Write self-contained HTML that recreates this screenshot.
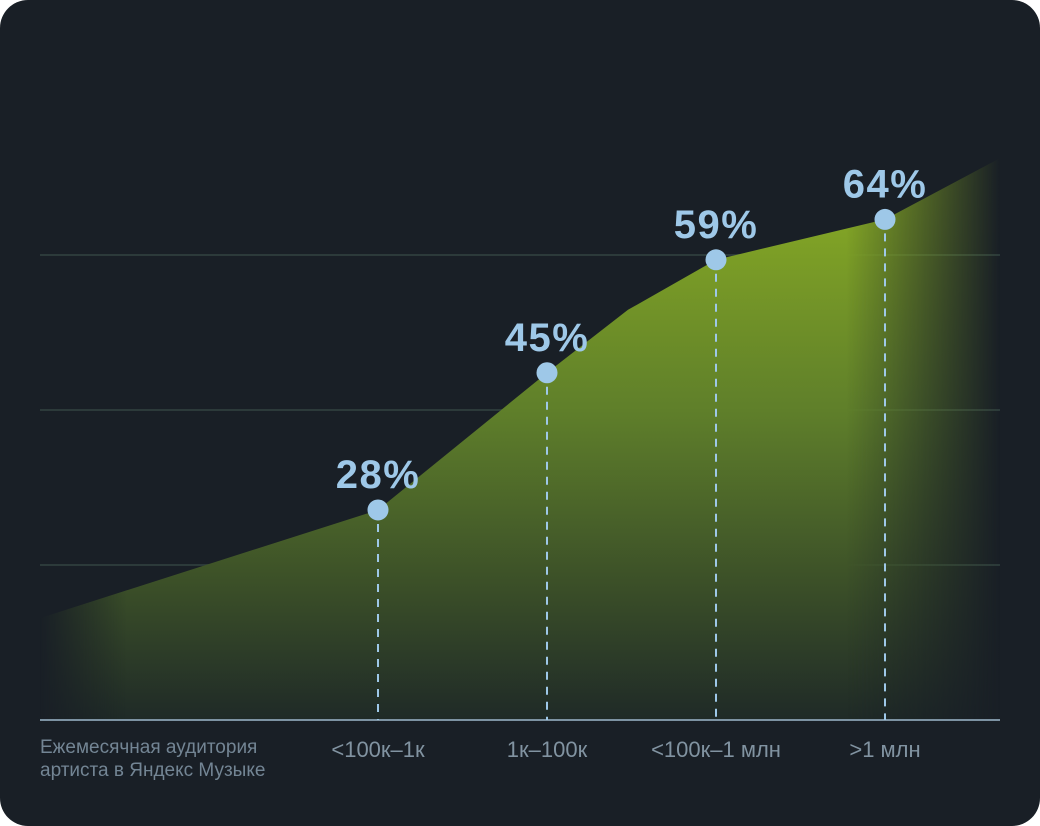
<!DOCTYPE html>
<html><head><meta charset="utf-8"><style>
html,body{margin:0;padding:0;background:#fff;width:1040px;height:826px;overflow:hidden}
.card{position:absolute;left:0;top:0;width:1040px;height:826px;background:#191f26;border-radius:28px}
svg{position:absolute;left:0;top:0}
text{font-family:"Liberation Sans",sans-serif}
</style></head><body>
<div class="card">
<svg id="chart" width="1040" height="826"></svg>
</div>
<script>
const categories = ["<100к–1к","1к–100к","<100к–1 млн",">1 млн"];
const values = [28,45,59,64];
const labels = ["28%","45%","59%","64%"];
const areaStart = 14.6, areaMid = 52.8, areaEnd = 71.6;
const axisTitle = ["Ежемесячная аудитория","артиста в Яндекс Музыке"];

const NS="http://www.w3.org/2000/svg";
const svg=document.getElementById('chart');
const X0=40,X1=1000,BASE=720;
const xPos=i=>378+i*169;
const y=v=>735.9-v*8.07;
function el(t,a,p){const e=document.createElementNS(NS,t);for(const k in a)e.setAttribute(k,a[k]);(p||svg).appendChild(e);return e;}
const defs=el('defs',{});
defs.innerHTML=`<linearGradient id="gv" x1="0" y1="0" x2="0" y2="1"><stop offset="0" stop-color="#8db024"/><stop offset="0.45" stop-color="#5f7f2a"/><stop offset="1" stop-color="#1f2a27"/></linearGradient>
<linearGradient id="gh" x1="0" y1="0" x2="1" y2="0"><stop offset="0" stop-color="#000"/><stop offset="0.09" stop-color="#fff"/><stop offset="0.84" stop-color="#fff"/><stop offset="1" stop-color="#000"/></linearGradient>
<mask id="mk"><rect x="40" y="0" width="960" height="826" fill="url(#gh)"/></mask>`;
[255,410,565].forEach((gy,i)=>{const l=el('line',{x1:X0,x2:X1,y1:gy,y2:gy,stroke:'#2c3a3a','stroke-width':2});
});
let pts=[[X0,y(areaStart)]];
values.forEach((v,i)=>{pts.push([xPos(i),y(v)]);if(i==1)pts.push([628,y(areaMid)]);});
pts.push([X1,y(areaEnd)]);
let d='M'+X0+','+BASE+' '+pts.map(p=>'L'+p[0]+','+p[1]).join(' ')+' L'+X1+','+BASE+'Z';
const area=el('path',{d:d,fill:'url(#gv)',mask:'url(#mk)'});

const ax=el('line',{x1:X0,x2:X1,y1:BASE,y2:BASE,stroke:'#7d93a3','stroke-width':2});

values.forEach((v,i)=>{
 const cx=xPos(i),cy=y(v);
 const dl=el('line',{x1:cx,x2:cx,y1:cy+14,y2:BASE,stroke:'#9ec8e8','stroke-width':2,'stroke-dasharray':'8 7'});
 
 const c=el('circle',{cx:cx,cy:cy,r:10.5,fill:'#9ec8e8'});
 
 const t=el('text',{x:cx,y:cy-22,'text-anchor':'middle','font-size':40,'font-weight':'bold',fill:'#9ec8e8','letter-spacing':'1.5'});
 t.textContent=labels[i];
 
 const tl=el('text',{x:cx,y:757,'text-anchor':'middle','font-size':22,fill:'#8193a1'});
 tl.textContent=categories[i];
 
});
axisTitle.forEach((s,i)=>{const t=el('text',{x:40,y:753+i*23,'font-size':19,fill:'#738594'});t.textContent=s;
 });
</script>
</body></html>
